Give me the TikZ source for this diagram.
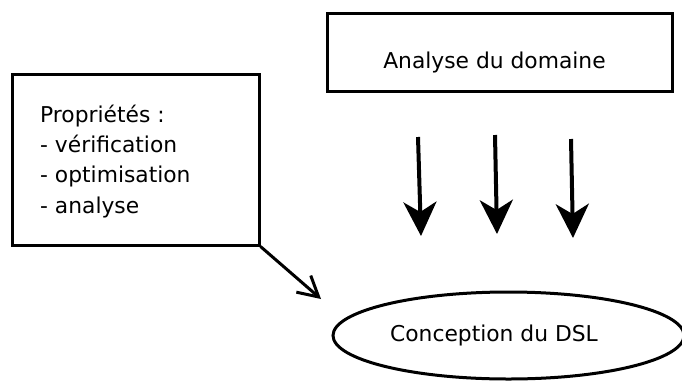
\documentclass[tikz,border=0pt]{standalone}
\usepackage{fontspec}
\setmainfont{DejaVu Sans}
\usetikzlibrary{arrows.meta,shapes.geometric}
\begin{document}
\begin{tikzpicture}[x=1pt,y=-1pt,
  txt/.style={font=\fontsize{21.8pt}{30.3pt}\selectfont, inner sep=0pt},
  frame/.style={draw, line width=3pt, rectangle, inner sep=0pt},
  oval/.style={draw, line width=3pt, ellipse, inner sep=0pt},
  flow/.style={line width=4pt, -{Stealth[length=34pt,width=33pt,inset=10pt]}},
  hint/.style={line width=3pt, -{Straight Barb[length=20pt,width=22pt]}}]
\useasboundingbox (0,0) rectangle (682,381);

% domain analysis box
\node[frame, minimum width=345pt, minimum height=78pt] (analyse) at (499.5,52) {};
\node[txt, anchor=base] (analyseTxt) at (494.5,68) {Analyse du domaine};

% properties box (multi-line text: base anchor sits on the last line)
\node[frame, minimum width=247pt, minimum height=171pt] (props) at (135.5,159.5) {};
\node[txt, anchor=base west, align=left] (propsTxt) at (40,213)
  {Propriétés :\\- vérification\\- optimisation\\- analyse};

% DSL design ellipse
\node[oval, minimum width=351pt, minimum height=87pt] (dsl) at (508.5,335.5) {};
\node[txt, anchor=base] (dslTxt) at (494,341) {Conception du DSL};

% flow arrows from analysis down to design
\coordinate (f1a) at (418,137); \coordinate (f1b) at (421,236);
\coordinate (f2a) at (495,135); \coordinate (f2b) at (497,234);
\coordinate (f3a) at (571,139); \coordinate (f3b) at (573,238);
\draw[flow] (f1a) -- (f1b);
\draw[flow] (f2a) -- (f2b);
\draw[flow] (f3a) -- (f3b);

% properties feed into design
\coordinate (hintEnd) at (321,299);
\draw[hint] (props.south east) -- (hintEnd);
\end{tikzpicture}
\end{document}
